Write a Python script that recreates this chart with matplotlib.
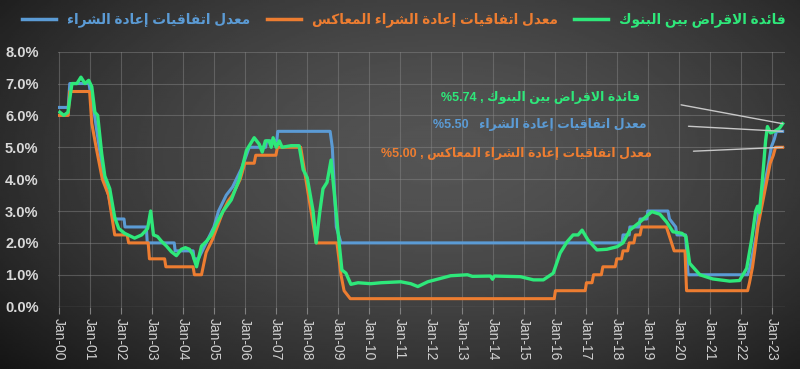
import numpy as np
import matplotlib
matplotlib.use('Agg')
import matplotlib.pyplot as plt
from matplotlib.lines import Line2D
from matplotlib.ticker import FuncFormatter

plt.rcParams['font.family'] = ['Liberation Sans', 'DejaVu Sans']

# ── data (years after Jan-2000, rate in %) ──────────────────────────
repo_t = [0.00, 0.30, 0.35, 0.97, 1.05, 1.15, 1.30, 1.45, 1.60, 1.75, 2.10, 2.13, 2.82, 2.85, 3.72,
          3.75, 4.33, 4.36, 4.50, 4.75, 5.00, 5.15, 5.40, 5.60, 5.90, 6.14, 6.67, 6.70, 7.03, 7.06,
          8.75, 8.82, 8.95, 9.10, 18.17, 18.20, 18.40, 18.42, 18.72, 18.75, 18.97, 19.00, 19.65, 19.70,
          19.90, 19.94, 20.22, 20.25, 20.30, 22.22, 22.30, 22.40, 22.50, 22.58, 22.75, 22.90, 22.98,
          23.08, 23.15, 23.35]
repo_v = [6.25, 6.25, 7.00, 7.00, 6.50, 6.00, 5.00, 4.00, 3.50, 2.75, 2.75, 2.50, 2.50, 2.00, 2.00,
          1.75, 1.75, 1.50, 1.50, 2.00, 2.50, 3.00, 3.50, 3.75, 4.35, 5.00, 5.00, 5.20, 5.20, 5.50,
          5.50, 5.00, 2.50, 2.00, 2.00, 2.25, 2.25, 2.50, 2.50, 2.75, 2.75, 3.00, 3.00, 2.75,
          2.50, 2.25, 2.25, 1.75, 1.00, 1.00, 1.25, 1.75, 2.25, 3.00, 3.75, 4.50, 5.00,
          5.25, 5.50, 5.50]

rev_t = [0.00, 0.30, 0.35, 0.99, 1.06, 1.20, 1.40, 1.50, 1.60, 1.80, 2.20, 2.25, 2.88, 2.92, 3.41,
         3.45, 4.33, 4.37, 4.60, 4.75, 4.95, 5.30, 5.45, 5.60, 5.85, 6.00, 6.30, 6.35, 7.00, 7.05,
         7.80, 8.30, 8.97, 9.10, 9.20, 9.40, 15.98, 16.02, 16.98, 17.02, 17.20, 17.25, 17.50, 17.55,
         17.95, 18.00, 18.15, 18.20, 18.35, 18.40, 18.55, 18.60, 18.75, 18.80, 19.60, 19.85, 20.20,
         20.25, 22.22, 22.28, 22.38, 22.45, 22.55, 22.70, 22.85, 22.95, 23.05, 23.12, 23.35]
rev_v = [6.00, 6.00, 6.75, 6.75, 5.75, 5.00, 4.00, 3.75, 3.50, 2.25, 2.25, 2.00, 2.00, 1.50, 1.50,
         1.25, 1.25, 1.00, 1.00, 1.70, 2.10, 3.00, 3.30, 3.50, 4.00, 4.50, 4.50, 4.75, 4.75, 5.00,
         5.00, 2.00, 2.00, 1.00, 0.50, 0.25, 0.25, 0.50, 0.50, 0.75, 0.75, 1.00, 1.00, 1.25,
         1.25, 1.50, 1.50, 1.75, 1.75, 2.00, 2.00, 2.25, 2.25, 2.50, 2.50, 1.75, 1.75,
         0.50, 0.50, 0.75, 1.25, 1.75, 2.50, 3.25, 4.00, 4.50, 4.75, 5.00, 5.00]

ib_t = [0.03, 0.16, 0.29, 0.42, 0.58, 0.71, 0.84, 0.96, 1.06, 1.16,
        1.25, 1.38, 1.48, 1.64, 1.80, 1.93, 2.12, 2.44, 2.67, 2.86,
        2.96, 3.05, 3.18, 3.31, 3.47, 3.63, 3.79, 3.95, 4.08, 4.21,
        4.31, 4.44, 4.60, 4.76, 4.92, 5.08, 5.30, 5.56, 5.82, 6.05,
        6.30, 6.46, 6.56, 6.66, 6.78, 6.85, 6.91, 7.01, 7.11, 7.20,
        7.49, 7.75, 7.88, 8.01, 8.20, 8.30, 8.42, 8.52, 8.65, 8.78,
        8.91, 9.04, 9.13, 9.26, 9.42, 9.65, 10.06, 10.39, 11.03, 11.35,
        11.58, 11.90, 12.64, 13.18, 13.34, 13.92, 13.99, 14.05, 14.89, 15.31,
        15.63, 15.95, 16.17, 16.40, 16.59, 16.75, 16.88, 17.07, 17.36, 17.68,
        18.01, 18.20, 18.42, 18.75, 19.13, 19.39, 19.61, 19.81, 20.10, 20.23,
        20.35, 20.68, 21.09, 21.64, 21.96, 22.19, 22.35, 22.48, 22.54, 22.60,
        22.70, 22.80, 22.86, 22.96, 23.09, 23.25, 23.35]
ib_v = [6.10, 6.00, 6.10, 7.00, 7.00, 7.20, 7.00, 7.10, 6.90, 6.10,
        6.00, 4.80, 4.10, 3.70, 2.80, 2.45, 2.30, 2.15, 2.25, 2.45,
        3.00, 2.25, 2.20, 2.05, 1.90, 1.72, 1.60, 1.80, 1.85, 1.80,
        1.65, 1.25, 1.90, 2.05, 2.25, 2.60, 3.00, 3.35, 4.00, 4.90,
        5.30, 5.10, 4.85, 5.20, 5.20, 5.00, 5.30, 5.00, 5.20, 5.00,
        5.05, 5.05, 4.30, 4.05, 3.00, 2.00, 3.00, 3.70, 3.90, 4.60,
        3.30, 2.00, 1.15, 1.05, 0.70, 0.75, 0.72, 0.75, 0.78, 0.72,
        0.63, 0.78, 0.97, 1.00, 0.95, 0.96, 0.86, 0.96, 0.94, 0.84,
        0.84, 1.05, 1.68, 2.04, 2.25, 2.25, 2.40, 2.09, 1.78, 1.80,
        1.88, 2.00, 2.40, 2.66, 2.98, 2.90, 2.65, 2.35, 2.30, 2.20,
        1.36, 1.00, 0.87, 0.80, 0.82, 1.20, 2.10, 3.00, 3.15, 2.95,
        4.00, 5.20, 5.65, 5.45, 5.50, 5.60, 5.74]

year_ticks = list(range(24))
year_labels = ['Jan-%02d' % y for y in year_ticks]
y_ticks = [0, 1, 2, 3, 4, 5, 6, 7, 8]

LBL_REPO = 'معدل اتفاقيات إعادة الشراء'
LBL_REV = 'معدل اتفاقيات إعادة الشراء المعاكس'
LBL_IB = 'فائدة الاقراض بين البنوك'

C_REPO = '#5b9bd5'
C_REV = '#ed7d31'
C_IB = '#2ee87a'

# ── tiny arabic shaper (matplotlib has no text shaping) ─────────────
AR_FORMS = {
    'ء': (0xFE80, 0), 'أ': (0xFE83, 1), 'إ': (0xFE87, 1), 'ئ': (0xFE89, 2),
    'ا': (0xFE8D, 1), 'ب': (0xFE8F, 2), 'ة': (0xFE93, 1), 'ت': (0xFE95, 2),
    'د': (0xFEA9, 1), 'ر': (0xFEAD, 1), 'س': (0xFEB1, 2), 'ش': (0xFEB5, 2),
    'ض': (0xFEBD, 2), 'ع': (0xFEC9, 2), 'ف': (0xFED1, 2), 'ق': (0xFED5, 2),
    'ك': (0xFED9, 2), 'ل': (0xFEDD, 2), 'م': (0xFEE1, 2), 'ن': (0xFEE5, 2),
    'و': (0xFEED, 1), 'ي': (0xFEF1, 2),
}
LAM_ALEF = {'ا': 0xFEFB, 'إ': 0xFEF9, 'أ': 0xFEF7}


def shape(txt):
    chars = list(txt)
    out = []
    i = 0
    while i < len(chars):
        c = chars[i]
        prev_join = i > 0 and AR_FORMS.get(chars[i - 1], (0, 0))[1] == 2
        if c not in AR_FORMS:
            out.append(c)
            i += 1
            continue
        if c == 'ل' and i + 1 < len(chars) and chars[i + 1] in LAM_ALEF:
            out.append(chr(LAM_ALEF[chars[i + 1]] + (1 if prev_join else 0)))
            i += 2
            continue
        base, jt = AR_FORMS[c]
        nxt = chars[i + 1] if i + 1 < len(chars) else ' '
        next_join = jt == 2 and AR_FORMS.get(nxt, (0, 0))[1] >= 1
        prev_join = prev_join and jt >= 1
        off = (1 if prev_join else 0) + (2 if next_join else 0)
        out.append(chr(base + off))
        i += 1
    return ''.join(reversed(out))


# ── figure ──────────────────────────────────────────────────────────
fig = plt.figure(figsize=(8, 3.69), dpi=100)

# dark vignette background
bg = fig.add_axes([0, 0, 1, 1], zorder=-5)
yy, xx = np.mgrid[0:1:200j, 0:1:400j]
r = np.sqrt(((xx - 0.55) / 0.75) ** 2 + ((yy - 0.42) / 0.9) ** 2)
bg.imshow(0.33 - 0.26 * r ** 1.6, cmap='gray', vmin=0, vmax=1, aspect='auto',
          extent=[0, 1, 0, 1])
bg.axis('off')

ax = fig.add_axes([0.0725, 0.169, 0.9085, 0.691])
ax.set_facecolor('none')

ax.plot(repo_t, repo_v, color=C_REPO, lw=2.2, zorder=3)
ax.plot(rev_t, rev_v, color=C_REV, lw=2.2, zorder=4)
ax.plot(ib_t, ib_v, color=C_IB, lw=2.4, zorder=5)

ax.set_xlim(-0.03, 23.42)
ax.set_ylim(0, 8)
ax.set_xticks(year_ticks)
ax.set_xticklabels(year_labels, rotation=-90, fontsize=10, color='#d0d0d0')
ax.set_yticks(y_ticks)
ax.yaxis.set_major_formatter(FuncFormatter(lambda v, p: '%.1f%%' % v))
for lb in ax.get_yticklabels():
    lb.set_fontweight('bold')
    lb.set_fontsize(10.5)
    lb.set_color('#d9d9d9')
ax.tick_params(axis='x', length=5, color='#808080', pad=3)
ax.tick_params(axis='y', length=0, pad=14)
ax.grid(True, color='#8a8a8a', lw=0.8, alpha=0.45)
for s in ax.spines.values():
    s.set_visible(False)
ax.axhline(0, color='#8a8a8a', lw=0.9, alpha=0.6, zorder=1)

# ── end-value labels with leader lines ──────────────────────────────
ann = [
    ('%' + '%.2f' % ib_v[-1] + ' , ' + shape(LBL_IB), ib_t[-1], ib_v[-1], 18.75, 6.57, C_IB),
    ('%' + '%.2f' % repo_v[-1] + '   ' + shape(LBL_REPO), repo_t[-1], repo_v[-1], 18.97, 5.73, C_REPO),
    ('%' + '%.2f' % rev_v[-1] + ' , ' + shape(LBL_REV), rev_t[-1], rev_v[-1], 19.13, 4.82, C_REV),
]
for txt, xt, yv, tx, ty, col in ann:
    ax.annotate(txt, xy=(xt, yv), xytext=(tx, ty), ha='right', va='center',
                fontsize=9, fontweight='bold', color=col, zorder=6,
                arrowprops=dict(arrowstyle='-', color='#c8c8c8', lw=1,
                                shrinkA=28, shrinkB=0, relpos=(1, 0.5)))

# ── legend on top ───────────────────────────────────────────────────
handles = [Line2D([], [], color=C_REPO, lw=2.5),
           Line2D([], [], color=C_REV, lw=2.5),
           Line2D([], [], color=C_IB, lw=2.5)]
leg = fig.legend(handles, [shape(LBL_REPO), shape(LBL_REV), shape(LBL_IB)],
                 loc='center', bbox_to_anchor=(0.505, 0.946), ncol=3,
                 frameon=False, handlelength=2.5, handletextpad=0.8,
                 columnspacing=1.2, prop={'weight': 'bold', 'size': 9.8})
for t, c in zip(leg.get_texts(), [C_REPO, C_REV, C_IB]):
    t.set_color(c)

fig.savefig('out.png', dpi=100)
